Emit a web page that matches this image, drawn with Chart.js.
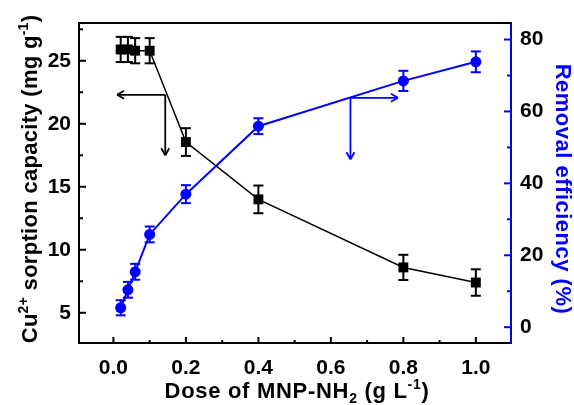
<!DOCTYPE html>
<html>
<head>
<meta charset="utf-8">
<script src="https://cdn.jsdelivr.net/npm/chart.js@4.4.0/dist/chart.umd.min.js"></script>
<style>
  body { margin: 0; background: #fff; }
  canvas { display: block; }
</style>
</head>
<body>
<canvas id="dose-chart" width="574" height="405"></canvas>
<script>
// Dose de MNP-NH2 (g/L)
const dose = [0.02, 0.04, 0.06, 0.1, 0.2, 0.4, 0.8, 1.0];
// Capacité de sorption du Cu2+ (mg/g) et écarts
const capacity = [25.9, 25.9, 25.8, 25.8, 18.55, 14.0, 8.6, 7.4];
const capacityErr = [1.0, 1.0, 1.0, 1.0, 1.1, 1.1, 1.0, 1.05];
// Taux d'élimination (%) et écarts
const removal = [5.4, 10.4, 15.4, 25.8, 37.0, 55.9, 68.5, 73.8];
const removalErr = [2.1, 2.2, 2.2, 2.2, 2.5, 2.2, 2.8, 2.9];

const BLUE = "#0000ff";
const FONT = '"Liberation Sans", Arial, sans-serif';
const TICK_SIZE = 21;
const TITLE_SIZE = 22;
const SUB_SIZE = 14;

// Pas des étiquettes de chaque axe (les autres graduations sont mineures)
const labelStep = { x: 0.2, y: 5, y1: 20 };

// Flèches qui indiquent l'axe de chaque courbe
const arrows = [
    { axis: "y", color: "#000", corner: [0.143, 22.3], tipX: 0.01, tipY: 17.5 },
    { axis: "y1", color: BLUE, corner: [0.654, 63.8], tipX: 0.785, tipY: 46.7 },
];

function isMajor(v, step) {
    const r = v / step;
    return Math.abs(r - Math.round(r)) < 1e-6;
}

function line(ctx, x1, y1, x2, y2) {
    ctx.beginPath();
    ctx.moveTo(x1, y1);
    ctx.lineTo(x2, y2);
    ctx.stroke();
}

// Texte avec exposants / indices
function drawRich(ctx, parts, cx, cy, angle, color, spacing) {
    ctx.save();
    ctx.translate(cx, cy);
    ctx.rotate(angle);
    ctx.fillStyle = color;
    ctx.textAlign = "left";
    ctx.textBaseline = "alphabetic";
    ctx.letterSpacing = spacing + "px";
    let w = 0;
    parts.forEach((p) => {
        ctx.font = `bold ${p.size}px ${FONT}`;
        p.w = ctx.measureText(p.text).width;
        w += p.w;
    });
    let x = -w / 2;
    parts.forEach((p) => {
        ctx.font = `bold ${p.size}px ${FONT}`;
        ctx.fillText(p.text, x, p.dy || 0);
        x += p.w;
    });
    ctx.restore();
}

// Barres d'erreur
const errorBars = {
    id: "errorBars",
    afterDatasetsDraw(chart) {
        const ctx = chart.ctx;
        chart.data.datasets.forEach((ds, i) => {
            const ys = chart.scales[ds.yAxisID];
            ctx.save();
            ctx.strokeStyle = ds.borderColor;
            ctx.lineWidth = 2;
            chart.getDatasetMeta(i).data.forEach((pt, j) => {
                const v = ds.data[j].y;
                const e = ds.errors[j];
                const top = ys.getPixelForValue(v + e);
                const bot = ys.getPixelForValue(v - e);
                line(ctx, pt.x, top, pt.x, bot);
                line(ctx, pt.x - 5, top, pt.x + 5, top);
                line(ctx, pt.x - 5, bot, pt.x + 5, bot);
            });
            ctx.restore();
        });
    },
};

// Graduations vers l'intérieur, cadre du haut, flèches et titres des axes
const decorations = {
    id: "decorations",
    afterDraw(chart) {
        const ctx = chart.ctx;
        const area = chart.chartArea;
        const sx = chart.scales.x;

        ctx.save();
        ctx.lineWidth = 2;
        ctx.strokeStyle = "#000";
        line(ctx, area.left - 1, area.top, area.right, area.top);

        sx.ticks.forEach((t) => {
            const p = sx.getPixelForValue(t.value);
            const len = isMajor(t.value, labelStep.x) ? 6 : 3;
            line(ctx, p, area.bottom, p, area.bottom - len);
        });
        chart.scales.y.ticks.forEach((t) => {
            const p = chart.scales.y.getPixelForValue(t.value);
            const len = isMajor(t.value, labelStep.y) ? 7 : 4;
            line(ctx, area.left, p, area.left + len, p);
        });
        ctx.strokeStyle = BLUE;
        chart.scales.y1.ticks.forEach((t) => {
            const p = chart.scales.y1.getPixelForValue(t.value);
            const len = isMajor(t.value, labelStep.y1) ? 7 : 4;
            line(ctx, area.right, p, area.right - len, p);
        });

        arrows.forEach((a) => {
            const ys = chart.scales[a.axis];
            const cx = sx.getPixelForValue(a.corner[0]);
            const cy = ys.getPixelForValue(a.corner[1]);
            const tx = sx.getPixelForValue(a.tipX);
            const ty = ys.getPixelForValue(a.tipY);
            const dir = tx < cx ? 1 : -1;
            ctx.strokeStyle = a.color;
            ctx.lineWidth = 1.8;
            line(ctx, cx, cy, tx, cy);
            line(ctx, cx, cy, cx, ty);
            line(ctx, tx, cy, tx + dir * 7, cy - 4);
            line(ctx, tx, cy, tx + dir * 7, cy + 4);
            line(ctx, cx, ty, cx - 4, ty - 7);
            line(ctx, cx, ty, cx + 4, ty - 7);
        });
        ctx.restore();

        drawRich(ctx, [
            { text: "Dose of MNP-NH", size: TITLE_SIZE },
            { text: "2", size: SUB_SIZE, dy: 5 },
            { text: " (g L", size: TITLE_SIZE },
            { text: "-1", size: SUB_SIZE, dy: -9 },
            { text: ")", size: TITLE_SIZE },
        ], 297, 398, 0, "#000", 0.7);

        drawRich(ctx, [
            { text: "Cu", size: TITLE_SIZE },
            { text: "2+", size: SUB_SIZE, dy: -9 },
            { text: " sorption capacity (mg g", size: TITLE_SIZE },
            { text: "-1", size: SUB_SIZE, dy: -9 },
            { text: ")", size: TITLE_SIZE },
        ], 37, 179, -Math.PI / 2, "#000", 0.3);

        drawRich(ctx, [
            { text: "Removal efficiency (%)", size: TITLE_SIZE },
        ], 556, 189, Math.PI / 2, BLUE, 0.5);
    },
};

const tickFont = { family: FONT, size: TICK_SIZE, weight: "bold" };

new Chart(document.getElementById("dose-chart").getContext("2d"), {
    type: "line",
    data: {
        datasets: [
            {
                label: "Cu2+ sorption capacity",
                data: dose.map((d, i) => ({ x: d, y: capacity[i] })),
                errors: capacityErr,
                yAxisID: "y",
                borderColor: "#000",
                backgroundColor: "#000",
                borderWidth: 1.5,
                pointStyle: "rect",
                pointRadius: 7,
                pointBorderWidth: 0,
            },
            {
                label: "Removal efficiency",
                data: dose.map((d, i) => ({ x: d, y: removal[i] })),
                errors: removalErr,
                yAxisID: "y1",
                borderColor: BLUE,
                backgroundColor: BLUE,
                borderWidth: 2,
                pointStyle: "circle",
                pointRadius: 5.5,
                pointBorderWidth: 0,
            },
        ],
    },
    options: {
        responsive: false,
        animation: false,
        layout: { padding: { top: 23, left: 0, right: 0, bottom: 0 } },
        plugins: { legend: { display: false }, tooltip: { enabled: false } },
        scales: {
            x: {
                type: "linear",
                min: -0.095,
                max: 1.097,
                afterFit: (s) => { s.height = 62; },
                grid: { display: false, drawTicks: false },
                border: { color: "#000", width: 2 },
                ticks: {
                    stepSize: 0.1,
                    includeBounds: false,
                    autoSkip: false,
                    maxRotation: 0,
                    padding: 13,
                    color: "#000",
                    font: tickFont,
                    callback: (v) => (isMajor(v, labelStep.x) ? v.toFixed(1) : ""),
                },
            },
            y: {
                position: "left",
                min: 2.6,
                max: 28,
                afterFit: (s) => { s.width = 79; },
                grid: { display: false, drawTicks: false },
                border: { color: "#000", width: 2 },
                ticks: {
                    stepSize: 2.5,
                    includeBounds: false,
                    autoSkip: false,
                    padding: 8,
                    color: "#000",
                    font: tickFont,
                    callback: (v) => (isMajor(v, labelStep.y) ? String(v) : ""),
                },
            },
            y1: {
                position: "right",
                min: -4.4,
                max: 84.6,
                afterFit: (s) => { s.width = 63; },
                grid: { display: false, drawTicks: false },
                border: { color: BLUE, width: 2 },
                ticks: {
                    stepSize: 10,
                    includeBounds: false,
                    autoSkip: false,
                    padding: 9,
                    color: "#000",
                    font: tickFont,
                    callback: (v) => (isMajor(v, labelStep.y1) ? String(v) : ""),
                },
            },
        },
    },
    plugins: [errorBars, decorations],
});
</script>
</body>
</html>
